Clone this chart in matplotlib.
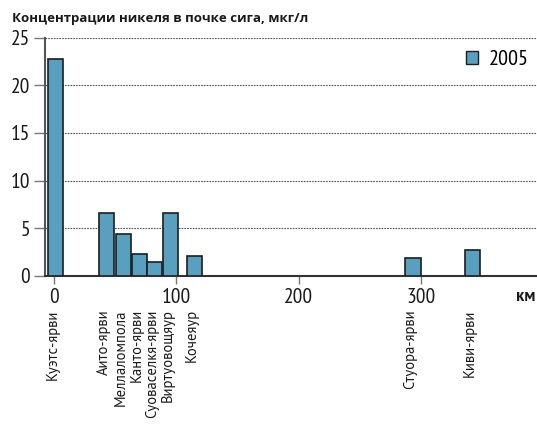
import matplotlib
matplotlib.use("Agg")
import matplotlib.pyplot as plt
from matplotlib.patches import Patch
from matplotlib.transforms import blended_transform_factory

# distance along the river system, km
distance_km = [1.5, 43, 57, 70, 82.5, 95.5, 115, 293.5, 342]
lakes = ["Куэтс-ярви", "Аито-ярви", "Меллаломпола", "Канто-ярви",
         "Суоваселкя-ярви", "Виртуовощяур", "Кочеяур", "Стуора-ярви", "Киви-ярви"]
nickel_2005 = [22.8, 6.6, 4.4, 2.3, 1.45, 6.6, 2.1, 1.85, 2.7]

x_ticks = [0, 100, 200, 300]
y_ticks = [0, 5, 10, 15, 20, 25]

BAR_COLOR = "#58a0c0"
NARROW = ["PT Sans Narrow", "DejaVu Sans"]
REGULAR = ["PT Sans", "DejaVu Sans"]

fig = plt.figure(figsize=(5.37, 4.29), dpi=100)
ax = fig.add_axes([0.084, 0.357, 0.916, 0.555])

ax.bar(distance_km, nickel_2005, width=12.5, color=BAR_COLOR,
       edgecolor="#1e1e1e", linewidth=1.2, zorder=3)

ax.set_xlim(-6.9, 394.7)
ax.set_ylim(0, 25)

# dotted grid lines
for y in y_ticks[1:]:
    ax.axhline(y, color="#555555", linestyle=(0, (1.5, 1.0)), linewidth=0.8, zorder=1)

for side in ["top", "right"]:
    ax.spines[side].set_visible(False)
ax.spines["left"].set_color("#555555")
ax.spines["left"].set_linewidth(1.5)
ax.spines["bottom"].set_color("#333333")
ax.spines["bottom"].set_linewidth(1.5)

ax.set_yticks(y_ticks)
ax.set_xticks(x_ticks)
ax.tick_params(axis="y", length=8, width=1, color="#777777", pad=3)
ax.tick_params(axis="x", length=6, width=1, color="#777777", pad=3)
for lbl in ax.get_yticklabels() + ax.get_xticklabels():
    lbl.set_family(NARROW)
    lbl.set_fontsize(15.5)
    lbl.set_color("#1a1a1a")

# lake names under the bars
for xk, name in zip(distance_km, lakes):
    ax.text(xk - 2, -3.5, name, rotation=90, ha="center", va="top",
            fontsize=10.5, family=REGULAR, color="#1a1a1a")

ax.text(0.997, -2.2, "км", transform=blended_transform_factory(ax.transAxes, ax.transData),
        ha="right", va="center", fontsize=12, fontweight="bold", color="#1a1a1a",
        family=REGULAR)

fig.text(0.022, 0.957, "Концентрации никеля в почке сига, мкг/л",
         fontsize=9.5, fontweight="bold", family=["Open Sans", "DejaVu Sans"],
         color="#1a1a1a", va="center")

handle = Patch(facecolor=BAR_COLOR, edgecolor="#1e1e1e", linewidth=1.0)
leg = ax.legend([handle], ["2005"], loc="center left", bbox_to_anchor=(0.856, 0.908),
                frameon=False, borderpad=0, borderaxespad=0,
                handlelength=0.55, handleheight=0.55, handletextpad=0.45,
                prop={"family": NARROW, "size": 16})

fig.savefig("out.png", dpi=100)
